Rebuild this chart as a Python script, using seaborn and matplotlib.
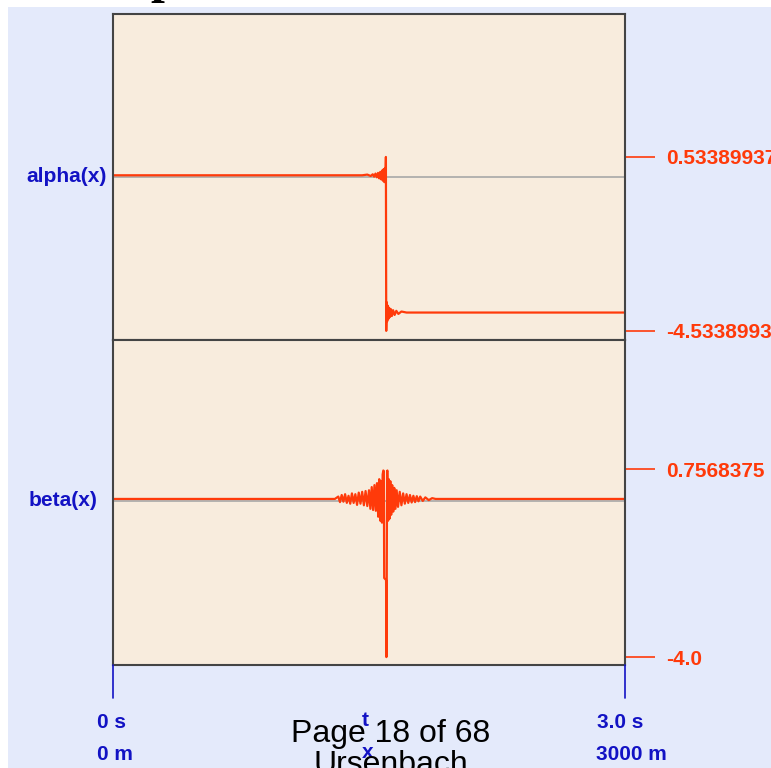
import matplotlib
matplotlib.use("Agg")
import matplotlib.pyplot as plt
import seaborn as sns
from matplotlib.lines import Line2D
from matplotlib.patches import Rectangle

sns.set_theme(style="white")
plt.rcParams['font.family'] = ['Liberation Sans', 'DejaVu Sans']

# alpha(x): step at ~1600 m with Gibbs ringing (position in m, value)
alpha_pos = [0, 1460, 1490, 1510, 1522, 1530, 1538, 1546, 1553, 1560, 1566,
             1572, 1577, 1582, 1586, 1590, 1593, 1596, 1599, 1601, 1604, 1607, 1610,
             1614, 1618, 1623, 1628, 1634, 1641, 1650, 1660, 1672, 1690, 1720, 3000]
alpha_val = [0, 0, 0.02, -0.02, 0.03, -0.04, 0.05, -0.06, 0.07, -0.09, 0.1,
             -0.12, 0.14, -0.16, 0.18, -0.2, 0.2, -0.2, 0.534, -4.534, -3.7, -4.25, -3.8,
             -4.18, -3.86, -4.13, -3.9, -4.1, -3.93, -4.07, -3.95, -4.04, -3.97, -4.0, -4.0]

# beta(x): narrow negative spike with ringing around it
beta_pos = [0, 1300, 1320, 1330, 1340, 1350, 1360, 1370, 1380, 1390, 1400, 1410, 1420,
            1430, 1440, 1450, 1460, 1470, 1480, 1490, 1500, 1508, 1516, 1524, 1532,
            1540, 1547, 1554, 1560, 1566, 1571, 1576, 1580, 1584, 1587, 1589, 1600,
            1602, 1604, 1606, 1608, 1612, 1616, 1620, 1625, 1630, 1636, 1642, 1648,
            1655, 1662, 1670, 1680, 1690, 1700, 1710, 1720, 1730, 1740, 1750, 1760,
            1770, 1780, 1790, 1800, 1815, 1830, 1850, 1870, 1890, 3000]
beta_val = [0, 0, 0.06, -0.08, 0.1, -0.07, 0.12, -0.1, 0.08, -0.12, 0.14, -0.1, 0.12,
            -0.15, 0.16, -0.12, 0.18, -0.16, 0.2, -0.18, 0.22, -0.25, 0.3, -0.28, 0.35,
            -0.3, 0.4, -0.45, 0.5, -0.55, 0.45, -0.6, 0.62, 0.72, 0.7, -2.0, -2.05,
            -4.0, -2.0, 0.7, 0.72, -0.55, 0.5, -0.5, 0.45, -0.4, 0.35, -0.32, 0.28,
            -0.25, 0.22, -0.2, 0.18, -0.16, 0.14, -0.12, 0.12, -0.1, 0.1, -0.09, 0.08,
            -0.08, 0.07, -0.06, 0.06, -0.05, 0.04, -0.03, 0.02, 0, 0]

tracks = ["alpha(x)", "beta(x)"]
scale_ticks = [[0.53389937, -4.53389937], [0.7568375, -4.0]]
scale_labels = [["0.53389937", "-4.53389937"], ["0.7568375", "-4.0"]]
ylims = [(-4.80, 4.70), (-4.20, 4.02)]

RED = "#FF3A0A"
BLUE = "#1212C4"
PANEL = "#F8ECDD"
BG = "#E4EAFB"
W, H = 771, 768

fig = plt.figure(figsize=(7.71, 7.68), dpi=100, facecolor="white")
fig.add_artist(Rectangle((8 / W, 0), 1, 1 - 7 / H, transform=fig.transFigure,
                         facecolor=BG, edgecolor="none", zorder=0))

boxes = [(14, 340), (340, 665)]
data = [(alpha_pos, alpha_val), (beta_pos, beta_val)]
label_x = [107, 97]
label_y = [177, 501]

for i, (top, bot) in enumerate(boxes):
    ax = fig.add_axes([113 / W, 1 - bot / H, 512 / W, (bot - top) / H])
    ax.set_facecolor(PANEL)
    ax.axhline(-0.04, color="#A8A8A8", lw=1.2, zorder=1)
    xs, ys = data[i]
    sns.lineplot(x=xs, y=ys, ax=ax, color=RED, lw=1.6, sort=False, estimator=None, zorder=2)
    ax.set_xlim(0, 3000)
    ax.set_ylim(*ylims[i])
    ax.set_xticks([])
    ax.yaxis.tick_right()
    ax.set_yticks(scale_ticks[i])
    ax.set_yticklabels(scale_labels[i], fontweight="bold", fontsize=15)
    ax.tick_params(axis="y", direction="out", length=21.6, width=1.2, color=RED,
                   labelcolor=RED, pad=8, right=True, left=False)
    for s in ax.spines.values():
        s.set_color("#444444")
        s.set_linewidth(1.5)
    ax.set_xlabel("")
    ax.set_ylabel("")
    fig.text(label_x[i] / W, 1 - label_y[i] / H, tracks[i], ha="right", va="center",
             color=BLUE, fontsize=15, fontweight="bold")

# time / distance axis at the bottom
for px in [113, 625]:
    fig.add_artist(Line2D([px / W, px / W], [1 - 665 / H, 1 - 698 / H],
                          transform=fig.transFigure, color=BLUE, lw=1.2))
bottom_labels = [("0 s", 97, 722), ("0 m", 97, 754), ("t", 362, 720), ("x", 362, 752),
                 ("3.0 s", 597, 722), ("3000 m", 596, 754)]
for txt, px, py in bottom_labels:
    fig.text(px / W, 1 - py / H, txt, ha="left", va="center", color=BLUE,
             fontsize=15, fontweight="bold")

fig.text(391 / W, 1 - 742 / H, "Page 18 of 68", ha="center", va="baseline",
         color="black", fontsize=23)
fig.text(391 / W, 1 - 773 / H, "Ursenbach", ha="center", va="baseline",
         color="black", fontsize=23)
fig.text(150 / W, 1 + 8 / H, "p", ha="left", va="baseline", color="black",
         fontsize=36, fontweight="bold", family="Liberation Serif")

fig.savefig("out.png", dpi=100, facecolor="white")
